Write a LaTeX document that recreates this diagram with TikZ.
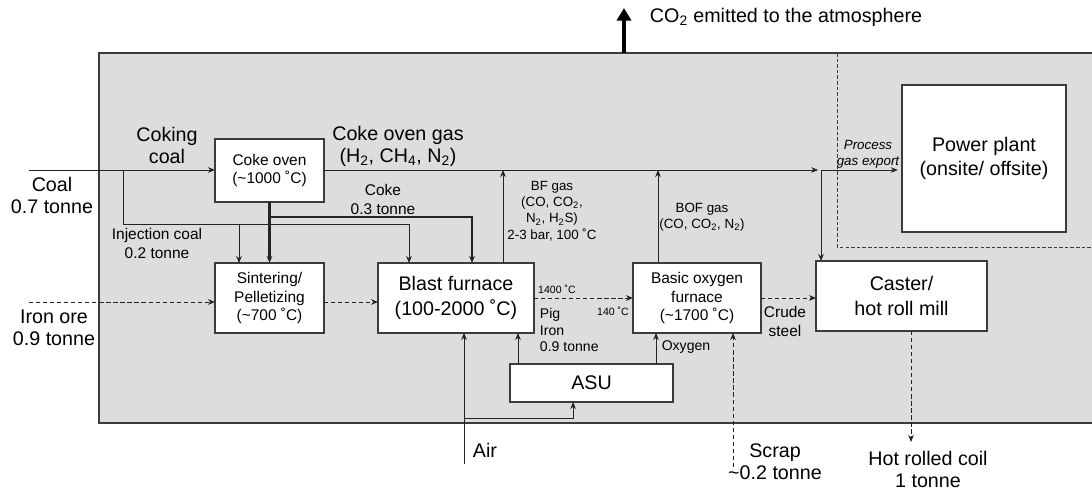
\documentclass[tikz,border=0pt]{standalone}
\usepackage{fontspec}
\setmainfont{Liberation Sans}
\usepackage{xcolor}
\usetikzlibrary{arrows.meta}
\definecolor{plantgray}{RGB}{221,221,221}
\definecolor{edgegray}{RGB}{60,60,60}
\definecolor{linegray}{RGB}{35,35,35}
\newcommand\sizebig{\fontsize{14}{15.6}\selectfont}
\newcommand\sizebox{\fontsize{14}{17.5}\selectfont}
\newcommand\sizemid{\fontsize{11}{13.5}\selectfont}
\newcommand\sizepig{\fontsize{10}{11.7}\selectfont}
\newcommand\sizesml{\fontsize{9.5}{11.6}\selectfont}
\newcommand\sizetny{\fontsize{7.5}{9}\selectfont}
\begin{document}
\begin{tikzpicture}[x=0.025cm,y=-0.025cm,>={Stealth[length=5pt,width=4pt]},
  unit/.style={draw=edgegray,fill=white,line width=0.8pt,inner sep=0pt,outer sep=0pt,align=center},
  flow/.style={->,draw=linegray,line width=0.6pt},
  cokeflow/.style={->,draw=linegray,line width=1.5pt},
  oreflow/.style={->,draw=linegray,line width=0.6pt,dash pattern=on 3pt off 2pt},
  txt/.style={align=center,text=black}]
\useasboundingbox (0,0) rectangle (1092,492);
\fill[plantgray] (99,53) rectangle (1096,423);
\draw[edgegray,line width=1.1pt] (1096,53) -- (99,53) -- (99,423) -- (1096,423);
\draw[edgegray,line width=0.6pt,dash pattern=on 2.5pt off 1.5pt] (837,53) -- (837,247) -- (1096,247);

\node[unit,font=\sizemid,minimum width=2.725cm,minimum height=1.575cm] (coke) at (269.5,170.5) {Coke oven\\(\textasciitilde1000 ˚C)};
\node[unit,font=\sizemid,minimum width=2.725cm,minimum height=1.75cm] (sinter) at (269.5,298) {Sintering/\\Pelletizing\\(\textasciitilde700 ˚C)};
\node[unit,font=\sizebox,minimum width=3.9cm,minimum height=1.75cm] (bf) at (456,298) {Blast furnace\\(100-2000 ˚C)};
\node[unit,font=\sizemid,minimum width=3.2cm,minimum height=1.75cm] (bof) at (697,298) {Basic oxygen\\furnace\\(\textasciitilde1700 ˚C)};
\node[unit,font=\sizebox,minimum width=4.275cm,minimum height=1.75cm] (caster) at (901.5,296) {Caster/\\hot roll mill};
\node[unit,font=\sizebox,minimum width=4.075cm,minimum height=0.95cm] (asu) at (591.5,383) {ASU};
\node[unit,font=\sizebox,minimum width=4.1cm,minimum height=3.675cm] (power) at (984,158.5) {Power plant\\(onsite/ offsite)};

\coordinate (coal) at (29,170);
\coordinate (ore) at (29,302);
\coordinate (split) at (123,170);
\coordinate (injsin) at (239,224);
\coordinate (injbf) at (409,224);
\coordinate (cokebf) at (472,217);
\coordinate (bfgas) at (503,170);
\coordinate (bofgas) at (658,170);
\coordinate (gasend) at (821,170);
\coordinate (air) at (464,464);
\coordinate (airsplit) at (464,418);
\coordinate (scrap) at (733,467);
\coordinate (coil) at (911,442);
\coordinate (co2base) at (624,53);
\coordinate (co2) at (624,8);

\draw[flow] (coal) -- (coal -| coke.west);
\draw[flow] (split) |- (injbf) -- (injbf |- bf.north);
\draw[flow] (injsin) -- (injsin |- sinter.north);
\draw[cokeflow] (coke.south) -- (sinter.north);
\draw[cokeflow] (coke.south |- cokebf) -- (cokebf) -- (cokebf |- bf.north);
\draw[flow] (bfgas |- bf.north) -- (bfgas);
\draw[flow] (bofgas |- bof.north) -- (bofgas);
\draw[flow,shorten >=2pt] (coke.east |- gasend) -- (gasend);
\draw[flow,shorten >=3pt] (gasend) -- (gasend -| power.west);
\draw[flow] (gasend) -- (gasend |- caster.north);
\draw[oreflow] (ore) -- (ore -| sinter.west);
\draw[oreflow] (ore -| sinter.east) -- (ore -| bf.west);
\draw[oreflow] (bf.east) -- (bf.east -| bof.west);
\draw[oreflow] (bof.east) -- (bof.east -| caster.west);
\draw[flow] ([xshift=0.2cm]asu.north west) -- ([xshift=0.2cm]asu.north west |- bf.south);
\draw[flow] ([xshift=-0.425cm]asu.north east) -- ([xshift=-0.425cm]asu.north east |- bof.south);
\draw[flow] (air) -- (air |- bf.south);
\draw[flow] (airsplit) -| ([xshift=-0.46cm]asu.south);
\draw[oreflow] (scrap) -- (scrap |- bof.south);
\draw[oreflow] (coil |- caster.south) -- (coil);
\draw[line width=3pt,-{Triangle[length=9pt,width=10pt]}] (co2base) -- (co2);

\node[txt,font=\sizebig] (coallbl) at (52,195) {Coal\\0.7 tonne};
\node[txt,font=\sizebig] (orelbl) at (54,328) {Iron ore\\0.9 tonne};
\node[txt,font=\sizebig] (cokingcoal) at (167,145) {Coking\\coal};
\node[txt,font=\sizebig] (covgas) at (398,146) {Coke oven gas\\(H\textsubscript{2}, CH\textsubscript{4}, N\textsubscript{2})};
\node[txt,font=\sizemid] (cokelbl) at (383,199) {Coke\\0.3 tonne};
\node[txt,font=\sizemid] (injlbl) at (157,243) {Injection coal\\0.2 tonne};
\node[txt,font=\sizesml] (bfgaslbl) at (552,211) {BF gas\\(CO, CO\textsubscript{2},\\N\textsubscript{2}, H\textsubscript{2}S)\\2-3 bar, 100 ˚C};
\node[txt,font=\sizesml] (bofgaslbl) at (702,217) {BOF gas\\(CO, CO\textsubscript{2}, N\textsubscript{2})};
\node[txt,font=\sizesml\itshape] (exportlbl) at (868,154) {Process\\gas export};
\node[txt,font=\sizetny] (hotlbl) at (557,289) {1400 ˚C};
\node[txt,font=\sizetny] (coollbl) at (613,311) {140 ˚C};
\node[font=\sizepig,align=left,anchor=west] (piglbl) at (535,330) {Pig\\Iron\\0.9 tonne};
\node[txt,font=\sizepig] (oxylbl) at (686,347) {Oxygen};
\node[txt,font=\sizemid] (crudelbl) at (785,321) {Crude\\steel};
\node[txt,font=\sizebig] (airlbl) at (485,450) {Air};
\node[txt,font=\sizebig] (scraplbl) at (775,462) {Scrap\\\textasciitilde0.2 tonne};
\node[txt,font=\sizebig] (coillbl) at (928,469) {Hot rolled coil\\1 tonne};
\node[txt,font=\sizebig,anchor=west] (co2lbl) at (645,17) {CO\textsubscript{2} emitted to the atmosphere};
\end{tikzpicture}
\end{document}
